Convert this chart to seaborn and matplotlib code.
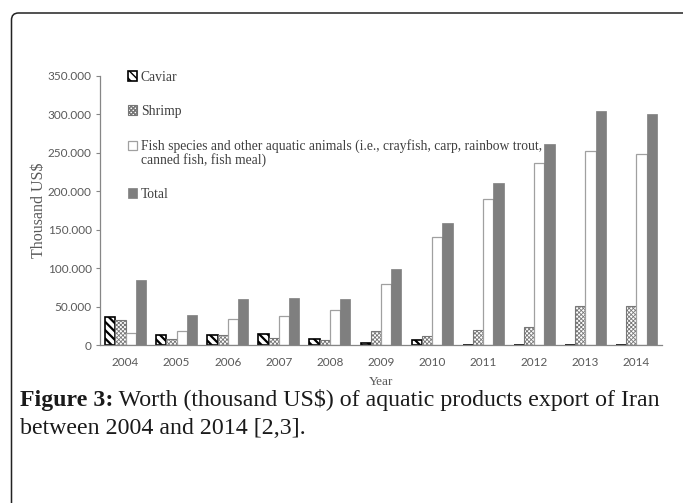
import numpy as np
import pandas as pd
import seaborn as sns
import matplotlib.pyplot as plt
from matplotlib.patches import FancyBboxPatch
from matplotlib.ticker import FuncFormatter

# Export worth of aquatic products (thousand US$)
years = [2004, 2005, 2006, 2007, 2008, 2009, 2010, 2011, 2012, 2013, 2014]
caviar = [37000, 13500, 13500, 14800, 8200, 2200, 7000, 500, 400, 300, 300]
shrimp = [32600, 7400, 12600, 8700, 6500, 17900, 11700, 20000, 23500, 51000, 51000]
fish = [15000, 17900, 33500, 37500, 45300, 79000, 141000, 190000, 237000, 253000, 249000]
total = [85000, 39000, 59600, 61000, 59600, 98800, 159000, 211000, 261000, 304000, 300000]

products = ['Caviar', 'Shrimp',
            'Fish species and other aquatic animals (i.e., crayfish, carp, rainbow trout,\ncanned fish, fish meal)',
            'Total']
y_ticks = [0, 50000, 100000, 150000, 200000, 250000, 300000, 350000]

df = pd.DataFrame({
    'Year': [str(y) for y in years] * 4,
    'Value': caviar + shrimp + fish + total,
    'Product': [p for p in products for _ in years],
})

sns.set_theme(style='white')
plt.rcParams['font.family'] = ['Liberation Serif', 'DejaVu Sans']
plt.rcParams['hatch.linewidth'] = 1.0

fig = plt.figure(figsize=(6.83, 5.03), dpi=100)
ax = fig.add_axes([100 / 683, 1 - 345 / 503, 562 / 683, 269 / 503])

palette = ['white', 'white', 'white', '#7f7f7f']
sns.barplot(data=df, x='Year', y='Value', hue='Product', palette=palette,
            width=0.8, saturation=1, ax=ax, legend=False)

# bar styles per series
styles = [
    dict(edgecolor='black', hatch='\\\\\\\\', lw=1.2, hlw=1.6),
    dict(edgecolor='#777777', hatch='xxxxxxxx', lw=0.8, hlw=0.6),
    dict(edgecolor='#a0a0a0', hatch=None, lw=0.9, hlw=None),
    dict(edgecolor='#7f7f7f', hatch=None, lw=0.5, hlw=None),
]
for cont, st in zip(ax.containers, styles):
    for p in cont:
        p.set_edgecolor(st['edgecolor'])
        p.set_linewidth(st['lw'])
        if st['hatch']:
            p.set_hatch(st['hatch'])
            if hasattr(p, 'set_hatch_linewidth'):
                p.set_hatch_linewidth(st['hlw'])

ax.set_ylim(0, 350000)
ax.set_yticks(y_ticks)
ax.yaxis.set_major_formatter(FuncFormatter(lambda v, _: f'{int(v):,}'.replace(',', '.')))
ax.set_xlim(-0.5, len(years) - 0.5)

for s in ['top', 'right']:
    ax.spines[s].set_visible(False)
for s in ['left', 'bottom']:
    ax.spines[s].set_color('#868686')
    ax.spines[s].set_linewidth(0.9)

ax.tick_params(axis='y', left=True, length=3, width=0.8, color='#868686', pad=3,
               labelsize=8.5, labelcolor='#595959')
ax.tick_params(axis='x', bottom=False, pad=2.5, labelsize=8.5, labelcolor='#595959')
for lab in ax.get_xticklabels() + ax.get_yticklabels():
    lab.set_fontfamily('Lato')

ax.set_xlabel('Year', fontsize=9.5, color='#595959', labelpad=6)
ax.set_ylabel('Thousand US$', fontsize=11.5, color='#595959', labelpad=0.5)

leg = ax.legend(ax.containers, products, loc='upper left', bbox_to_anchor=(0.04, 1.04),
                frameon=False, fontsize=9.8, labelspacing=1.55, handlelength=0.7,
                handleheight=0.7, handletextpad=0.25, borderaxespad=0)
for t in leg.get_texts():
    t.set_color('#404040')
    t.set_linespacing(1.0)
# put the fish handle next to the first line of its label
fh = leg.legend_handles[2]
fh.set_y(fh.get_y() + 5.5)

# rounded frame around the figure block
frame = FancyBboxPatch((11.5, -20), 700, 503 - 13 + 20,
                       boxstyle='round,pad=0,rounding_size=7',
                       transform=None, fill=False, edgecolor='#222222', lw=1.1,
                       clip_on=False)
fig.patches.append(frame)

# caption
cap_size = 14
bold = fig.text(20 / 683, 1 - 406 / 503, 'Figure 3:', fontsize=cap_size,
                fontweight='bold', color='#1a1a1a', va='baseline')
rest = fig.text(0, 1 - 406 / 503, ' Worth (thousand US$) of aquatic products export of Iran',
                fontsize=cap_size, color='#1a1a1a', va='baseline')
line2 = fig.text(20 / 683, 1 - 434 / 503, 'between 2004 and 2014 [2,3].',
                 fontsize=cap_size, color='#1a1a1a', va='baseline')
fig.canvas.draw()
r = fig.canvas.get_renderer()
w = bold.get_window_extent(r).width + rest.get_window_extent(r).width
scale = 645 / w
for t in (bold, rest, line2):
    t.set_fontsize(cap_size * scale)
fig.canvas.draw()
bx = bold.get_window_extent(r)
rest.set_x(bx.x1 / fig.bbox.width)

fig.savefig('out.png', dpi=100)
